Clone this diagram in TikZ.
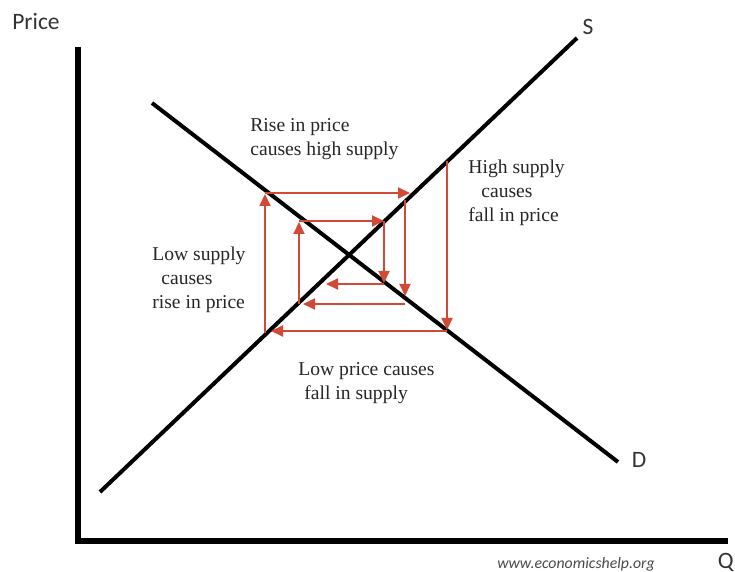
\documentclass[tikz,border=0pt]{standalone}
\usepackage{fontspec}
\setmainfont{Liberation Serif}
\setsansfont{Carlito}
\usetikzlibrary{arrows.meta}
\definecolor{cobweb-red}{HTML}{D04A35}
\definecolor{url-gray}{HTML}{4A4A4A}

\begin{document}
\begin{tikzpicture}[x=0.5pt, y=-0.5pt,
        every node/.style={font=\fontsize{9.8}{12.2}\selectfont, text=black!85, inner sep=0pt},
        axis/.style={line width=3pt},
        curve/.style={line width=2pt},
        cobweb/.style={draw=cobweb-red, line width=1pt,
          -{Triangle[length=6pt,width=5.5pt]}},
        axislabel/.style={font=\sffamily\fontsize{11.75}{14}\selectfont, text=black!80}]
      \useasboundingbox (0,0) rectangle (735,572);
      % axes
      \coordinate (origin) at (78,541);
      \coordinate (ytop) at (78,47);
      \coordinate (xend) at (728,541);
      \draw[axis] (ytop) -- (origin) -- (xend);
      \node[axislabel] (price) at (36,22) {Price};
      \node[axislabel, anchor=east] (qty) at (734,562) {Q};
      % supply and demand
      \coordinate (S0) at (100,492);
      \coordinate (S1) at (577,38);
      \coordinate (D0) at (152,103);
      \coordinate (D1) at (618,462);
      \draw[curve] (S0) -- (S1);
      \draw[curve] (D0) -- (D1);
      \node[axislabel] (slabel) at (588,27) {S};
      \node[axislabel] (dlabel) at (639,460) {D};
      % outer path
      \draw[cobweb] (265,333) -- (265,194);
      \draw[cobweb] (265,193) -- (410,193);
      \draw[cobweb] (447,161) -- (447,330);
      \draw[cobweb] (447,331) -- (271,331);
      % middle path
      \draw[cobweb] (405,200) -- (405,296);
      \draw[cobweb] (405,304) -- (303,304);
      \draw[cobweb] (299,304) -- (299,222);
      \draw[cobweb] (299,221) -- (384,221);
      \draw[cobweb] (384,221) -- (384,283);
      \draw[cobweb] (384,284) -- (326,284);
      % labels
      \node[anchor=base west, align=left] (rise) at (250,156)
            {Rise in price\\causes high supply};
      \node[anchor=base west, align=left] (high) at (468,222)
            {High supply\\\hspace{6.5pt}causes\\fall in price};
      \node[anchor=base west, align=left] (low) at (152,309)
            {Low supply\\\hspace{4.5pt}causes\\rise in price};
      \node[anchor=base west, align=left] (fall) at (298,400)
            {Low price causes\\\hspace{3pt}fall in supply};
      \node[font=\sffamily\itshape\fontsize{7.9}{9}\selectfont, text=url-gray]
            (url) at (576,564) {www.economicshelp.org};
    \end{tikzpicture}
\end{document}
